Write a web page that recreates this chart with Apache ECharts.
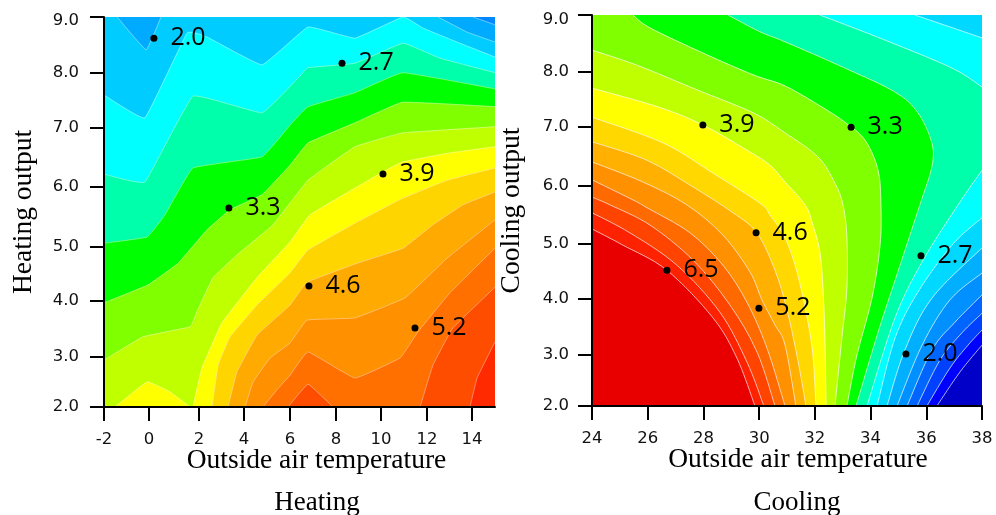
<!DOCTYPE html>
<html><head><meta charset="utf-8">
<style>html,body{margin:0;padding:0;background:#fff}#c{width:996px;height:515px}</style>
<script src="https://cdn.jsdelivr.net/npm/echarts@6/dist/echarts.min.js"></script>
</head><body><div id="c"></div>
<script>
// Axis ticks (the reference's ticks are unevenly placed, so they are listed where drawn)
const heatXTickLabels = ['-2','0','2','4','6','8','10','12','14'];
const heatXTickAt = [-2,-0.04,2.13,4.09,6.09,8.09,10.04,12.04,14];
const coolXTickLabels = ['24','26','28','30','32','34','36','38'];
const coolXTickAt = [24,26,28,30,32,34,36,38];
const outputTickLabels = ['2.0','3.0','4.0','5.0','6.0','7.0','8.0','9.0'];
const heatYTickAt = [2,2.897,3.903,4.872,5.949,7.008,7.995,9];
const coolYTickAt = [2,2.913,3.916,4.90,5.938,6.995,7.979,9];
const heatYLabelAt = [2,2.897,3.903,4.872,5.949,7.008,7.995,8.93];
const coolYLabelAt = [2,2.913,3.916,4.90,5.938,6.995,7.979,8.91];

// Labelled points
const heatPoints = [[0.17,8.62,'2.0'],[8.35,8.17,'2.7'],[3.43,5.57,'3.3'],[10.13,6.18,'3.9'],[6.91,4.17,'4.6'],[11.52,3.42,'5.2']];
const coolPoints = [[27.98,7.03,'3.9'],[33.30,6.99,'3.3'],[29.89,5.10,'4.6'],[35.81,4.69,'2.7'],[26.69,4.43,'6.5'],[29.99,3.75,'5.2'],[35.27,2.93,'2.0']];

// Heating: contour lines, lowest level first, each with the fill above it
const heatBase = '#0088ff';
const heatColors = ['#00aaff','#00ccff','#00ffff','#00ffaa','#00ff00','#80ff00','#bfff00','#ffff00','#ffd500','#ffaa00','#ff9000','#ff7000','#ff4d00','#ff2a00'];
const heatContours = [
 [[14.04,9],[15,8.86]],
 [[-1.43,9],[-0.17,8.41],[0.48,9],[12.52,9],[13.78,8.73],[15,8.55]],
 [[-2,7.60],[-0.22,7.19],[1.61,8.71],[2.48,8.64],[4.87,8.14],[6.87,8.82],[8.91,8.62],[11,9],[11.87,8.80],[13.35,8.55],[15,8.28]],
 [[-2,6.18],[-0.22,6.04],[1.87,7.58],[4.87,7.28],[6.52,7.94],[6.87,8.09],[8.91,8.17],[11,8.53],[12.61,8.26],[15,8.0]],
 [[-2,4.94],[-0.13,5.05],[0.65,5.45],[1.87,6.29],[4.87,6.49],[6.09,7.06],[6.87,7.39],[8.91,7.64],[11,8.0],[15,7.71]],
 [[-2,3.87],[-0.09,4.19],[1.22,4.58],[2.48,5.18],[3.48,5.54],[4.87,5.81],[6.09,6.34],[6.87,6.74],[8.91,7.10],[11,7.47],[15,7.39]],
 [[-2,2.84],[-0.30,3.26],[1.74,3.44],[2.04,3.71],[2.74,4.32],[3.78,4.73],[5.35,5.27],[6.87,6.07],[8.91,6.67],[11,6.92],[15,7.03]],
 [[-1.52,2],[-0.13,2.45],[0.87,2.27],[1.74,2],[1.87,2],[2.26,2.70],[3.13,3.51],[4.65,4.32],[6.09,4.96],[6.96,5.45],[9.0,5.95],[10.13,6.22],[11,6.40],[13.04,6.56],[15,6.67]],
 [[2.70,2],[2.96,2.75],[3.48,3.26],[4.65,3.83],[6.09,4.41],[6.87,4.82],[8.91,5.30],[10.43,5.63],[11,5.75],[12.91,6.07],[15,6.29]],
 [[3.39,2],[3.78,2.63],[4.65,3.29],[6.09,3.83],[6.83,4.24],[9,4.58],[11,4.85],[12.30,5.27],[13.61,5.63],[15,5.86]],
 [[4.13,2],[4.48,2.45],[5.22,2.88],[6.09,3.15],[6.83,3.56],[8.91,3.60],[11.09,3.96],[12.91,4.67],[15,5.36]],
 [[4.91,2],[5.52,2.31],[6.09,2.57],[6.87,2.99],[8.91,2.52],[10.87,2.88],[11.65,3.35],[13.04,4.05],[15,4.85]],
 [[6,2],[6.87,2.41],[7.96,2],[11.74,2],[12.30,2.75],[13.17,3.42],[15,4.15]],
 [[13.91,2],[14.22,2.52],[15,3.17]]
];

// Cooling: contour lines, lowest level first, each with the fill above it
const coolBase = '#0000c8';
const coolColors = ['#0000ff','#0040ff','#0066ff','#0090ff','#00b0ff','#00d8ff','#00ffff','#00ffaa','#00ff00','#80ff00','#bfff00','#ffff00','#ffd800','#ffb000','#ff9000','#ff6a00','#ff4400','#ff2200','#e80000'];
const coolContours = [
 [[38,3.09],[37.21,2.61],[36.38,2]],
 [[38,3.36],[37.5,3.09],[36.85,2.68],[36.02,2]],
 [[38,3.66],[37.28,3.31],[36.49,2.82],[35.67,2]],
 [[38,3.99],[37.03,3.50],[36.20,3.0],[35.31,2]],
 [[38,4.38],[36.85,3.90],[35.85,3.09],[34.95,2]],
 [[38,4.83],[36.20,3.93],[35.23,3.0],[34.59,2]],
 [[35.59,9],[38,8.59],[38,5.37],[36.92,4.88],[35.70,4.04],[34.88,3.22],[34.23,2]],
 [[32.18,9],[34.52,8.55],[36.92,8.05],[38,7.71],[38,6.22],[37.14,5.60],[35.85,4.58],[34.88,3.58],[33.87,2]],
 [[28.88,9],[30.03,8.70],[30.93,8.52],[33.08,8.05],[34.88,7.62],[35.70,7.25],[36.20,6.71],[36.20,6.28],[35.77,5.60],[34.98,4.40],[34.27,3.32],[33.48,2]],
 [[25.47,9],[26.08,8.77],[27.98,8.32],[29.78,7.93],[30.93,7.73],[32.26,7.35],[33.08,7.08],[33.80,6.76],[34.27,6.22],[34.37,5.60],[34.34,4.88],[34.05,3.93],[33.51,2.91],[33.15,2]],
 [[24,8.37],[25.62,8.10],[27.77,7.66],[29.78,7.25],[30.93,6.89],[32.11,6.46],[32.72,5.99],[33.01,5.60],[33.15,5.01],[33.15,4.11],[32.97,3.22],[32.72,2]],
 [[24,7.69],[26.40,7.35],[27.98,7.03],[29.56,6.58],[30.39,6.31],[30.93,6.01],[31.65,5.60],[31.93,5.24],[32.18,4.76],[32.29,4.11],[32.36,3.22],[32.40,2]],
 [[24,7.17],[26.55,6.71],[28.34,6.17],[30.03,5.63],[30.39,5.42],[30.93,5.01],[31.36,4.40],[31.72,3.58],[31.93,2.91],[32.04,2]],
 [[24,6.73],[25.97,6.40],[27.63,5.92],[29.06,5.46],[29.92,5.10],[30.57,4.43],[31.0,3.72],[31.39,2.82],[31.68,2]],
 [[24,6.37],[25.83,6.01],[27.41,5.60],[28.70,5.06],[29.67,4.40],[30.10,3.90],[30.57,3.45],[30.93,3.09],[31.32,2]],
 [[24,6.05],[25.47,5.69],[26.01,5.54],[27.52,5.10],[28.70,4.52],[29.56,3.86],[30.28,3.04],[30.93,2]],
 [[24,5.74],[24.65,5.60],[26.08,5.24],[27.63,4.61],[28.95,3.81],[29.92,2.97],[30.57,2]],
 [[24,5.46],[25.36,5.10],[27.05,4.52],[28.59,3.68],[29.56,2.79],[30.17,2]],
 [[24,5.17],[25.11,4.88],[26.69,4.43],[28.34,3.58],[29.20,2.86],[29.85,2]]
];

const SERIF = '"Liberation Serif","Times New Roman",serif';

// Plot-border corners needed to close a contour, walking clockwise from its end back to its start.
function closingCorners(line, xr, yr) {
  const corners = [[xr[0],yr[1]],[xr[1],yr[1]],[xr[1],yr[0]],[xr[0],yr[0]]];
  const w = xr[1]-xr[0], h = yr[1]-yr[0];
  const perim = p => p[1]===yr[1] ? (p[0]-xr[0])/w
    : p[0]===xr[1] ? 1+(yr[1]-p[1])/h
    : p[1]===yr[0] ? 2+(xr[1]-p[0])/w
    : 3+(p[1]-yr[0])/h;
  const tE = perim(line[line.length-1]);
  let tS = perim(line[0]);
  if (tS <= tE) tS += 4;
  const out = [];
  for (let c = 1; c <= 8; c++) if (c > tE && c < tS) out.push(corners[c%4]);
  return out;
}

// Split a contour into stretches, leaving out parts that run along the plot border.
function strokePieces(line, xr, yr) {
  const pieces = []; let cur = [line[0]];
  for (let i = 1; i < line.length; i++) {
    const a = line[i-1], b = line[i];
    const onEdge = (a[0]===b[0] && (a[0]===xr[0]||a[0]===xr[1])) || (a[1]===b[1] && (a[1]===yr[0]||a[1]===yr[1]));
    if (onEdge) { pieces.push(cur); cur=[b]; } else cur.push(b);
  }
  pieces.push(cur);
  return pieces;
}

// Bezier commands through pixel points; k sets how rounded the joins are (0 = straight).
function curveCmds(pts, k) {
  let d = '';
  for (let i = 0; i < pts.length-1; i++) {
    const p0 = pts[Math.max(i-1,0)], p1 = pts[i], p2 = pts[i+1], p3 = pts[Math.min(i+2,pts.length-1)];
    const c1 = [p1[0]+(p2[0]-p0[0])*k, p1[1]+(p2[1]-p0[1])*k];
    const c2 = [p2[0]-(p3[0]-p1[0])*k, p2[1]-(p3[1]-p1[1])*k];
    d += 'C'+c1[0].toFixed(2)+' '+c1[1].toFixed(2)+' '+c2[0].toFixed(2)+' '+c2[1].toFixed(2)+' '+p2[0].toFixed(2)+' '+p2[1].toFixed(2);
  }
  return d;
}
const at = p => p[0].toFixed(2)+' '+p[1].toFixed(2);

function contourSeries(idx, contours, colors, xr, yr, lineColor, lineWidth, round) {
  return {
    type:'custom', xAxisIndex:idx, yAxisIndex:idx, clip:true, silent:true, z:2,
    data: contours.map((c,i)=>[c[0][0],c[0][1],i]),
    encode:{x:0,y:1},
    renderItem(params, api) {
      const i = api.value(2), line = contours[i];
      const pieces = strokePieces(line,xr,yr).map(pc=>pc.map(p=>api.coord(p)));
      let fillPath = 'M'+at(pieces[0][0]);
      pieces.forEach((pc,j)=>{ if (j>0) fillPath += 'L'+at(pc[0]); fillPath += curveCmds(pc,round); });
      closingCorners(line,xr,yr).forEach(c=>{ fillPath += 'L'+at(api.coord(c)); });
      fillPath += 'Z';
      const children = [{type:'path', shape:{pathData:fillPath}, style:{fill:colors[i], stroke:colors[i], lineWidth:0.5}}];
      pieces.forEach(pc=>{ if (pc.length>1) children.push({type:'path', shape:{pathData:'M'+at(pc[0])+curveCmds(pc,round)}, style:{fill:null, stroke:lineColor, lineWidth}}); });
      return {type:'group', children};
    }
  };
}

function pointSeries(idx, pts) {
  return {
    type:'scatter', xAxisIndex:idx, yAxisIndex:idx, z:6, symbolSize:7, silent:true,
    itemStyle:{color:'#000',opacity:1},
    data: pts,
    label:{show:true, position:'right', distance:13, color:'#000', opacity:1, fontFamily:'"Open Sans",sans-serif', fontSize:25,
      formatter:p=>p.value[2]}
  };
}

function xAxisOf(idx, xr, tickAt, tickLabels, namePad) {
  return {type:'value', gridIndex:idx, min:xr[0], max:xr[1], z:5,
    name:'Outside air temperature', nameLocation:'middle', nameGap:40, nameMoveOverlap:false,
    nameTextStyle:{fontFamily:SERIF, fontSize:27.5, color:'#000', padding:[0,0,0,namePad]},
    axisLine:{show:true,onZero:false,lineStyle:{color:'#000',width:2}},
    axisTick:{show:true,length:14,customValues:tickAt,lineStyle:{color:'#000',width:2}},
    axisLabel:{customValues:tickAt,margin:24,color:'#111',fontFamily:'"DejaVu Sans",sans-serif',fontSize:16.5,hideOverlap:false,
      formatter:v=>tickLabels[tickAt.indexOf(v)]},
    splitLine:{show:false}};
}
function yAxisOf(idx, tickAt, labelAt, name, margin) {
  return {type:'value', gridIndex:idx, min:2, max:9, z:5,
    name, nameLocation:'middle', nameGap:66, nameMoveOverlap:false,
    nameTextStyle:{fontFamily:SERIF, fontSize:27.5, color:'#000'},
    axisLine:{show:true,onZero:false,lineStyle:{color:'#000',width:2}},
    axisTick:{show:true,length:14,customValues:tickAt,lineStyle:{color:'#000',width:2}},
    axisLabel:{customValues:labelAt,margin,color:'#111',fontFamily:'"DejaVu Sans",sans-serif',fontSize:16.5,hideOverlap:false,padding:[2,0,0,0],
      formatter:v=>outputTickLabels[labelAt.indexOf(v)]},
    splitLine:{show:false}};
}

const heatX=[-2,15], coolX=[24,38], outY=[2,9];
const chart = echarts.init(document.getElementById('c'),null,{renderer:'canvas'});
chart.setOption({
  animation:false, backgroundColor:'#fff',
  title:[
    {text:'Heating',left:317,top:489,padding:0,textAlign:'center',textStyle:{fontFamily:SERIF,fontSize:27,fontWeight:'normal',color:'#000'}},
    {text:'Cooling',left:797,top:489,padding:0,textAlign:'center',textStyle:{fontFamily:SERIF,fontSize:27,fontWeight:'normal',color:'#000'}}
  ],
  grid:[
    {left:104,top:17,width:391,height:390,show:true,backgroundColor:heatBase,borderWidth:0},
    {left:592,top:15,width:390,height:391,show:true,backgroundColor:coolBase,borderWidth:0}
  ],
  xAxis:[xAxisOf(0,heatX,heatXTickAt,heatXTickLabels,34),xAxisOf(1,coolX,coolXTickAt,coolXTickLabels,22)],
  yAxis:[yAxisOf(0,heatYTickAt,heatYLabelAt,'Heating output',25),yAxisOf(1,coolYTickAt,coolYLabelAt,'Cooling output',23)],
  series:[
    contourSeries(0,heatContours,heatColors,heatX,outY,'rgba(255,255,255,0.4)',1,0.04),
    contourSeries(1,coolContours,coolColors,coolX,outY,'rgba(255,255,255,0.85)',0.8,1/6),
    pointSeries(0,heatPoints),
    pointSeries(1,coolPoints)
  ]
});
</script></body></html>
